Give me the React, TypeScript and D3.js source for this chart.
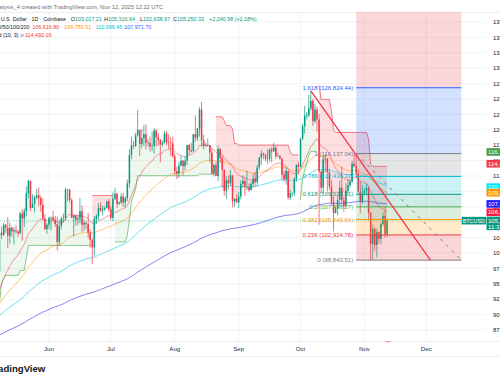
import React, { useMemo } from "react";
import * as d3 from "d3";

// ---------- DATA (USD thousands) ----------
const START_DATE = "2025-04-18";
// closes before START_DATE (Mar 19 – Apr 17), used only to warm up the 20-day average
const priorCloses = [86.9, 84.2, 84.0, 83.8, 86.1, 87.5, 87.4, 86.9, 87.2, 84.4, 82.6, 82.4, 82.5,
  85.2, 82.5, 83.1, 83.8, 83.5, 78.4, 79.2, 76.3, 82.6, 79.6, 83.4, 85.3, 83.7, 84.6, 83.6, 84.0, 84.9];

const aprCandles = [[84.9,85.5,84.0,84.4],[84.4,85.6,84.2,85.1],[85.1,85.3,83.9,85.2],[85.2,88.5,85.1,87.5],[87.5,93.9,87.0,93.4],[93.4,94.7,91.9,93.7],[93.7,94.0,91.7,93.9],[93.9,95.8,92.9,94.7],[94.7,95.3,93.9,94.6],[94.6,95.3,93.1,93.7],[93.7,95.6,92.9,95.0],[95.0,95.5,93.8,94.2],[94.2,95.2,92.9,94.2]];
const mayCandles = [[94.2,97.4,94.1,96.5],[96.5,97.9,96.3,96.9],[96.9,96.9,95.7,95.9],[95.9,96.3,94.1,94.3],[94.3,95.2,93.5,94.7],[94.7,96.9,93.4,96.8],[96.8,97.7,95.8,97.0],[97.0,103.9,96.9,103.3],[103.3,104.3,102.3,102.9],[102.9,104.9,102.8,104.6],[104.6,104.7,103.3,104.1],[104.1,105.8,100.8,102.8],[102.8,104.9,101.5,104.1],[104.1,104.3,102.6,103.5],[103.5,104.2,101.4,103.7],[103.7,104.6,103.1,103.5],[103.5,103.7,102.6,103.2],[103.2,106.7,103.1,106.4],[106.4,107.1,102.0,105.6],[105.6,107.3,104.2,106.8],[106.8,110.8,105.9,109.7],[109.7,111.9,108.9,111.7],[111.7,111.8,106.8,107.3],[107.3,109.5,107.3,108.0],[108.0,109.3,106.6,109.0],[109.0,110.4,108.7,109.4],[109.4,110.7,107.6,108.9],[108.9,109.3,106.7,107.8],[107.8,108.9,105.3,105.6],[105.6,106.3,103.7,103.9],[103.9,104.9,103.1,104.6]];
const junCandles = [[104.6,105.9,103.9,105.7],[105.7,105.9,103.7,105.8],[105.8,106.8,105.0,105.4],[105.4,106.0,104.2,104.7],[104.7,105.9,100.4,101.8],[101.8,105.4,101.1,104.4],[104.4,105.9,103.9,105.6],[105.6,106.4,104.9,105.7],[105.7,110.6,105.3,110.3],[110.3,110.4,108.4,110.3],[110.3,110.4,108.1,108.6],[108.6,108.9,105.7,105.7],[105.7,106.2,102.7,106.1],[106.1,106.2,104.4,105.4],[105.4,106.1,104.5,105.6],[105.6,108.9,104.8,106.8],[106.8,107.7,103.4,104.6],[104.6,105.6,103.6,104.9],[104.9,105.2,103.9,104.7],[104.7,106.5,102.4,103.3],[103.3,103.9,100.9,102.1],[102.1,102.4,98.2,100.9],[100.9,106.0,99.6,105.5],[105.5,106.3,104.7,106.0],[106.0,108.1,105.4,107.3],[107.3,108.3,106.6,106.9],[106.9,107.7,106.1,107.1],[107.1,107.6,106.8,107.3],[107.3,108.5,107.2,108.4],[108.4,108.8,106.7,107.1]];
const julCandles = [[107.1,107.6,105.3,105.7],[105.7,109.8,105.2,108.8],[108.8,110.6,108.6,109.6],[109.6,109.8,107.3,108.0],[108.0,108.4,107.8,108.2],[108.2,109.7,107.9,109.2],[109.2,109.8,107.5,108.2],[108.2,109.2,107.4,108.9],[108.9,111.9,108.4,111.3],[111.3,116.8,110.6,115.9],[115.9,118.9,115.2,117.5],[117.5,118.2,116.9,117.4],[117.4,119.5,117.2,119.1],[119.1,123.2,118.9,120.0],[120.0,120.0,115.7,117.7],[117.7,120.1,117.0,118.7],[118.7,120.8,117.4,119.3],[119.3,120.9,116.8,117.9],[117.9,118.5,117.3,117.9],[117.9,118.9,116.5,117.3],[117.3,119.7,116.5,117.4],[117.4,120.3,116.1,119.9],[119.9,120.1,117.3,118.8],[118.8,119.5,117.4,118.4],[118.4,118.5,114.7,117.6],[117.6,118.3,117.3,117.9],[117.9,119.8,117.8,119.4],[119.4,119.8,117.5,118.0],[118.0,119.3,116.9,117.9],[117.9,118.8,115.8,117.8],[117.8,118.9,115.5,115.7]];
const augCandles = [[115.7,116.1,112.7,113.3],[113.3,114.0,112.0,112.9],[112.9,114.8,112.2,114.2],[114.2,115.7,114.1,115.0],[115.0,115.1,112.6,114.1],[114.1,115.7,113.4,115.0],[115.0,117.6,114.3,117.5],[117.5,117.7,115.9,116.7],[116.7,117.9,116.3,116.5],[116.5,119.3,116.5,119.3],[119.3,122.3,118.1,118.7],[118.7,120.3,118.2,120.2],[120.2,123.7,118.9,123.3],[123.3,124.5,117.2,118.3],[118.3,119.2,116.8,117.4],[117.4,117.9,117.2,117.5],[117.5,118.6,117.3,117.5],[117.5,117.6,114.7,116.3],[116.3,117.0,112.7,112.9],[112.9,114.6,112.4,114.3],[114.3,114.8,112.6,112.5],[112.5,117.4,111.7,116.9],[116.9,117.0,114.6,115.4],[115.4,115.7,110.6,113.5],[113.5,113.6,109.3,110.1],[110.1,112.4,108.8,111.8],[111.8,112.6,110.3,111.3],[111.3,113.5,110.9,112.6],[112.6,112.6,107.4,108.4],[108.4,108.9,107.5,108.8],[108.8,109.5,108.1,108.2]];
const sepCandles = [[108.2,109.9,107.3,109.2],[109.2,111.8,108.7,111.2],[111.2,112.6,110.6,111.7],[111.7,112.2,109.3,110.7],[110.7,113.4,110.2,110.7],[110.7,111.3,110.0,110.2],[110.2,111.6,110.2,111.2],[111.2,112.9,110.6,112.1],[112.1,113.2,110.8,111.5],[111.5,114.3,110.9,113.9],[113.9,115.5,113.4,115.5],[115.5,116.7,114.3,116.1],[116.1,116.3,115.2,115.9],[115.9,116.1,114.9,115.3],[115.3,116.8,114.4,115.3],[115.3,117.0,114.8,116.8],[116.8,117.2,114.7,116.5],[116.5,117.9,116.4,117.1],[117.1,117.4,115.2,115.7],[115.7,116.3,115.6,115.7],[115.7,115.9,115.2,115.3],[115.3,115.4,111.9,112.7],[112.7,113.3,111.6,112.0],[112.0,113.9,111.1,113.3],[113.3,113.4,108.7,109.0],[109.0,110.3,108.6,109.7],[109.7,109.8,109.1,109.7],[109.7,112.3,109.2,112.1],[112.1,114.4,111.6,114.3],[114.3,114.8,112.7,114.0]];
const octCandles = [[114.0,118.6,113.9,118.6],[118.6,121.0,118.3,120.6],[120.6,123.9,119.4,122.3],[122.3,122.9,121.7,122.4],[122.4,125.7,122.1,123.5],[123.5,126.3,123.1,124.7],[124.7,125.1,120.6,121.4],[121.4,124.2,121.1,123.3],[123.3,123.8,119.7,121.7],[121.7,122.6,104.6,113.2],[113.2,113.4,109.7,110.6],[110.6,115.8,109.7,115.2],[115.2,116.1,113.0,115.3],[115.3,115.4,110.0,113.1],[113.1,113.6,110.2,110.8],[110.8,111.8,107.6,108.2],[108.2,109.2,103.5,106.5],[106.5,107.5,106.4,107.2],[107.2,109.4,106.1,108.6],[108.6,111.7,107.5,110.6],[110.6,114.0,107.5,108.5],[108.5,109.1,106.7,107.6],[107.6,111.3,107.5,110.1],[110.1,112.0,109.7,111.0],[111.0,111.9,110.6,111.6],[111.6,115.0,111.3,114.5],[114.5,116.137,113.9,114.1],[114.1,116.0,112.2,112.9],[112.9,113.6,109.5,110.0],[110.0,111.6,106.4,108.3],[108.3,111.0,108.0,109.6]];
const novCandles = [[109.6,110.5,109.4,110.1],[110.1,111.2,109.5,110.6],[110.6,110.8,105.3,106.5],[106.5,106.7,98.844,101.5],[101.5,104.6,98.9,103.9],[103.9,104.2,100.3,101.3],[101.3,104.0,99.3,103.4],[103.4,103.5,101.5,102.3],[102.3,105.0,101.4,104.7],[104.7,106.6,104.3,106.0],[106.0,107.5,102.5,103.017],[103.017,105.317,102.639,105.250]];

// Longer averages: value on the first visible day (May 8)
const EMA_SEED_DATE = "2025-05-08";
const emaPeriods = [50, 100, 200];
const emaSeeds = [91.8, 89.9, 86.7];

const priceTicks = [87.5, 90, 92.5, 95, 97.5, 100, 102.5, 105, 107.5, 110, 112.5, 115, 117.5, 120, 122.5, 125, 127.5, 130, 132.5, 135, 137.5];
const monthTicks = ["2025-06-01","2025-07-01","2025-08-01","2025-09-01","2025-10-01","2025-11-01","2025-12-01"];
const monthLabels = ["Jun","Jul","Aug","Sep","Oct","Nov","Dec"];

const fibStart: [string, number] = ["2025-10-28", 116.13704];
const fibEnd: [string, number] = ["2025-12-18", 98.84351];
const fibLevels = [0, 0.236, 0.382, 0.5, 0.618, 0.786, 1, 1.618, 2.618];
const fibColors = ["#787b86","#f23645","#ff9800","#4caf50","#089981","#00bcd4","#787b86","#2962ff","#f23645"];
const trendA: [string, number] = ["2025-10-06", 126.3];
const trendB: [string, number] = ["2025-12-03", 98.85];

const tags: { v: number; color: string; text: string }[] = [
  { v: 116.4, color: "#43a047", text: "116,396.00" },
  { v: 114.49216, color: "#f23645", text: "114,492.16" },
  { v: 110.69645, color: "#00e5ff", text: "110,696.45" },
  { v: 109.78351, color: "#ff9800", text: "109,783.51" },
  { v: 107.9717, color: "#1e1eff", text: "107,971.70" },
  { v: 106.6168, color: "#ff1744", text: "106,616.80" },
];

const FONT = "'Liberation Sans', Arial, sans-serif";

type C = { date: Date; o: number; h: number; l: number; c: number };

export default function App() {
  const parse = d3.utcParse("%Y-%m-%d");
  const x = d3.scaleUtc().domain([parse("2025-06-01")!, parse("2025-12-01")!]).range([49, 426.3]);
  const y = d3.scaleLinear().domain([100, 137.5]).range([253, 22]);

  const candles: C[] = useMemo(() => {
    const all = [...aprCandles, ...mayCandles, ...junCandles, ...julCandles, ...augCandles, ...sepCandles, ...octCandles, ...novCandles];
    const s = parse(START_DATE)!;
    return all.map((d, i) => ({ date: d3.utcDay.offset(s, i), o: d[0], h: d[1], l: d[2], c: d[3] }));
  }, []);

  // EMA 20 warmed up on prior closes
  const ema20: { date: Date; v: number }[] = [];
  {
    const k = 2 / 21;
    let e = priorCloses[0];
    priorCloses.forEach((c) => { e += k * (c - e); });
    candles.forEach((d) => { e += k * (d.c - e); ema20.push({ date: d.date, v: e }); });
  }
  const seedIdx = candles.findIndex((d) => +d.date === +parse(EMA_SEED_DATE)!);
  const emaLong = emaPeriods.map((n, j) => {
    const k = 2 / (n + 1);
    let e = emaSeeds[j];
    const out: { date: Date; v: number }[] = [{ date: candles[seedIdx].date, v: e }];
    for (let i = seedIdx + 1; i < candles.length; i++) {
      e += k * (candles[i].c - e);
      out.push({ date: candles[i].date, v: e });
    }
    return out;
  });

  // Supertrend (10, 3)
  const st: { date: Date; v: number; dir: number; mid: number }[] = [];
  {
    const period = 10, factor = 3;
    let atr = NaN, pl = NaN, pu = NaN, pst = NaN;
    const trs: number[] = [];
    candles.forEach((d, i) => {
      const pc = i > 0 ? candles[i - 1].c : NaN;
      const tr = i === 0 ? d.h - d.l : Math.max(d.h - d.l, Math.abs(d.h - pc), Math.abs(d.l - pc));
      trs.push(tr);
      if (i < period - 1) return;
      atr = i === period - 1 ? d3.mean(trs)! : (atr * (period - 1) + tr) / period;
      const hl2 = (d.h + d.l) / 2;
      let up = hl2 + factor * atr, lo = hl2 - factor * atr;
      if (!isNaN(pl)) {
        lo = lo > pl || pc < pl ? lo : pl;
        up = up < pu || pc > pu ? up : pu;
      }
      let dir: number;
      if (isNaN(pst)) dir = 1;
      else if (pst === pu) dir = d.c > up ? -1 : 1;
      else dir = d.c < lo ? 1 : -1;
      const v = dir === -1 ? lo : up;
      st.push({ date: d.date, v, dir, mid: (d.o + d.c) / 2 });
      pl = lo; pu = up; pst = v;
    });
  }
  const runs: (typeof st)[] = [];
  st.forEach((p, i) => {
    if (i === 0 || p.dir !== st[i - 1].dir) runs.push([p]);
    else runs[runs.length - 1].push(p);
  });

  const lineV = d3.line<{ date: Date; v: number }>().x((d) => x(d.date)).y((d) => y(d.v));
  const areaSt = d3.area<{ date: Date; v: number; mid: number }>().x((d) => x(d.date)).y0((d) => y(d.v)).y1((d) => y(d.mid));

  const fx1 = x(parse(fibStart[0])!), fx2 = x(parse(fibEnd[0])!);
  const fibVal = (lv: number) => fibEnd[1] + (fibStart[1] - fibEnd[1]) * lv;
  const fmt = d3.format(",.2f");

  const UP = "#089981", DN = "#f23645";
  const last = candles[candles.length - 1];
  const emaColors = ["#ff9800", "#4fdcec", "#6c6cf2"];
  const emaOpac = [0.55, 0.85, 0.85];

  return (
    <svg width={500} height={383} style={{ position: "fixed", left: 0, top: 0, background: "#fff" }} fontFamily={FONT}>
      <defs>
        <clipPath id="pane"><rect x={0} y={12} width={486} height={329} /></clipPath>
        <clipPath id="scale"><rect x={486} y={12} width={14} height={329} /></clipPath>
        <clipPath id="axis"><rect x={0} y={341} width={486} height={15} /></clipPath>
      </defs>
      <rect width={500} height={383} fill="#fff" />
      {/* grid */}
      <g stroke="#f3f3f3" strokeWidth={1}>
        {priceTicks.map((t) => <line key={t} x1={0} x2={486} y1={y(t)} y2={y(t)} />)}
        {monthTicks.map((m) => <line key={m} x1={x(parse(m)!)} x2={x(parse(m)!)} y1={12} y2={341} />)}
      </g>
      <line x1={0} x2={500} y1={12.5} y2={12.5} stroke="#eceef2" />
      <line x1={0} x2={500} y1={341.5} y2={341.5} stroke="#eceef2" />
      <line x1={0} x2={500} y1={356.5} y2={356.5} stroke="#f0f0f0" />

      <g clipPath="url(#pane)">
        {/* supertrend fills */}
        {runs.map((r, i) => (
          <path key={"a" + i} d={areaSt(r)!} fill={r[0].dir === -1 ? "#4caf50" : "#f23645"} fillOpacity={r[0].dir === -1 ? 0.1 : 0.16} />
        ))}
        {runs.map((r, i) => (
          <path key={"l" + i} d={lineV(r)!} fill="none" stroke={r[0].dir === -1 ? "#4caf50" : "#f23645"} strokeOpacity={0.65} strokeWidth={1} />
        ))}
        {/* moving averages */}
        {[2, 1, 0].map((j) => (
          <path key={"e" + j} d={lineV(emaLong[j])!} fill="none" stroke={emaColors[j]} strokeWidth={1} strokeOpacity={emaOpac[j]} />
        ))}
        <path d={lineV(ema20)!} fill="none" stroke="#f23645" strokeWidth={1} strokeOpacity={0.5} />
        {/* price line */}
        <line x1={0} x2={486} y1={y(last.c)} y2={y(last.c)} stroke={UP} strokeOpacity={0.35} strokeWidth={1} strokeDasharray="1 1" />
        {/* candles */}
        {candles.map((d, i) => {
          const cx = x(d.date);
          const col = d.c >= d.o ? UP : DN;
          const top = y(Math.max(d.o, d.c)), bot = y(Math.min(d.o, d.c));
          return (
            <g key={i}>
              <line x1={cx} x2={cx} y1={y(d.h)} y2={y(d.l)} stroke={col} strokeWidth={0.7} />
              <rect x={cx - 0.75} y={top} width={1.5} height={Math.max(0.6, bot - top)} fill={col} />
            </g>
          );
        })}
        {/* fib fills */}
        {fibLevels.slice(0, -1).map((lv, i) => {
          const y1 = y(fibVal(lv)), y2 = y(fibVal(fibLevels[i + 1]));
          return <rect key={"f" + lv} x={fx1} width={fx2 - fx1} y={y2} height={y1 - y2} fill={fibColors[i + 1]} fillOpacity={0.2} />;
        })}
        {fibLevels.map((lv, i) => (
          <line key={"fl" + lv} x1={fx1} x2={fx2} y1={y(fibVal(lv))} y2={y(fibVal(lv))} stroke={fibColors[i]} strokeWidth={1} />
        ))}
        <line x1={fx1} y1={y(fibStart[1])} x2={fx2} y2={y(fibEnd[1])} stroke="#787b86" strokeWidth={1} strokeDasharray="3 5" />
        {/* trend line */}
        <line x1={x(parse(trendA[0])!)} y1={y(trendA[1])} x2={x(parse(trendB[0])!)} y2={y(trendB[1])} stroke="#f23645" strokeWidth={1.3} />
        {fibLevels.slice(0, -1).map((lv, i) => (
          <text key={"ft" + lv} x={fx1 - 3} y={y(fibVal(lv))} dy="0.35em" textAnchor="end" fontSize={6} fill={fibColors[i]}>
            {`${lv} (${fmt(fibVal(lv) * 1000)})`}
          </text>
        ))}
      </g>
      {/* event marker on time axis */}
      <g clipPath="url(#axis)">
        <circle cx={388} cy={338} r={4.5} fill="#f7a1a8" />
      </g>

      {/* price scale */}
      <g fontSize={6} fill="#131722">
        {priceTicks.map((t) => <text key={t} x={493} y={y(t)} dy="0.35em">{fmt(t * 1000)}</text>)}
      </g>
      <g clipPath="url(#scale)">
        {tags.map((t) => (
          <g key={t.text}>
            <rect x={486.5} y={y(t.v) - 3.8} width={20} height={7.6} fill={t.color} />
            <text x={488} y={y(t.v)} dy="0.35em" fontSize={6} fill="#fff">{t.text}</text>
          </g>
        ))}
        <rect x={486.5} y={y(last.c) - 4} width={20} height={13.5} fill={UP} />
        <text x={488} y={y(last.c)} dy="0.35em" fontSize={6} fill="#fff">{fmt(last.c * 1000)}</text>
        <text x={488} y={y(last.c) + 6.3} dy="0.35em" fontSize={6} fill="#fff">11:37:38</text>
      </g>
      <rect x={461.7} y={y(last.c) - 3.8} width={24.3} height={7.6} fill={UP} />
      <text x={473.8} y={y(last.c)} dy="0.35em" fontSize={5.4} fill="#fff" textAnchor="middle">BTCUSD</text>

      {/* time axis */}
      <g fontSize={6.2} fill="#2a2e39" textAnchor="middle">
        {monthTicks.map((m, i) => <text key={m} x={x(parse(m)!)} y={349} dy="0.35em">{monthLabels[i]}</text>)}
      </g>
      <text x={-11} y={369} dy="0.35em" fontSize={9.6} fontWeight={700} fill="#131722">TradingView</text>

      {/* header */}
      <g fontSize={5.4}>
        <text x={163} y={6.7} dy="0.35em" textAnchor="end" fill="#6a6d78" fontSize={5.7}>Analysis_4 created with TradingView.com, Nov 12, 2025 12:22 UTC</text>
        <text x={66} y={19} dy="0.35em" textAnchor="end" fill="#131722">Bitcoin / U.S. Dollar · 1D · Coinbase</text>
        <text x={70.7} y={19} dy="0.35em"><tspan fill="#131722">O</tspan><tspan fill={UP}>103,017.21</tspan></text>
        <text x={104} y={19} dy="0.35em"><tspan fill="#131722">H</tspan><tspan fill={UP}>105,316.64</tspan></text>
        <text x={140} y={19} dy="0.35em"><tspan fill="#131722">L</tspan><tspan fill={UP}>102,638.97</tspan></text>
        <text x={173} y={19} dy="0.35em"><tspan fill="#131722">C</tspan><tspan fill={UP}>105,250.33</tspan></text>
        <text x={209} y={19} dy="0.35em" fill={UP}>+2,240.98 (+2.18%)</text>
        <text x={29.5} y={27} dy="0.35em" textAnchor="end" fill="#131722">EMA 20/50/100/200</text>
        <text x={32.3} y={27} dy="0.35em" fill="#f23645">106,616.80</text>
        <text x={64.3} y={27} dy="0.35em" fill="#ff9800">109,783.51</text>
        <text x={95.7} y={27} dy="0.35em" fill="#00bcd4">110,696.45</text>
        <text x={124.3} y={27} dy="0.35em" fill="#2962ff">107,971.70</text>
        <text x={18.5} y={35} dy="0.35em" textAnchor="end" fill="#131722">Supertrend (10, 3)</text>
        <text x={20} y={35} dy="0.35em" fill="#787b86">⊘</text>
        <text x={25} y={35} dy="0.35em" fill="#f23645">114,492.16</text>
      </g>
    </svg>
  );
}
